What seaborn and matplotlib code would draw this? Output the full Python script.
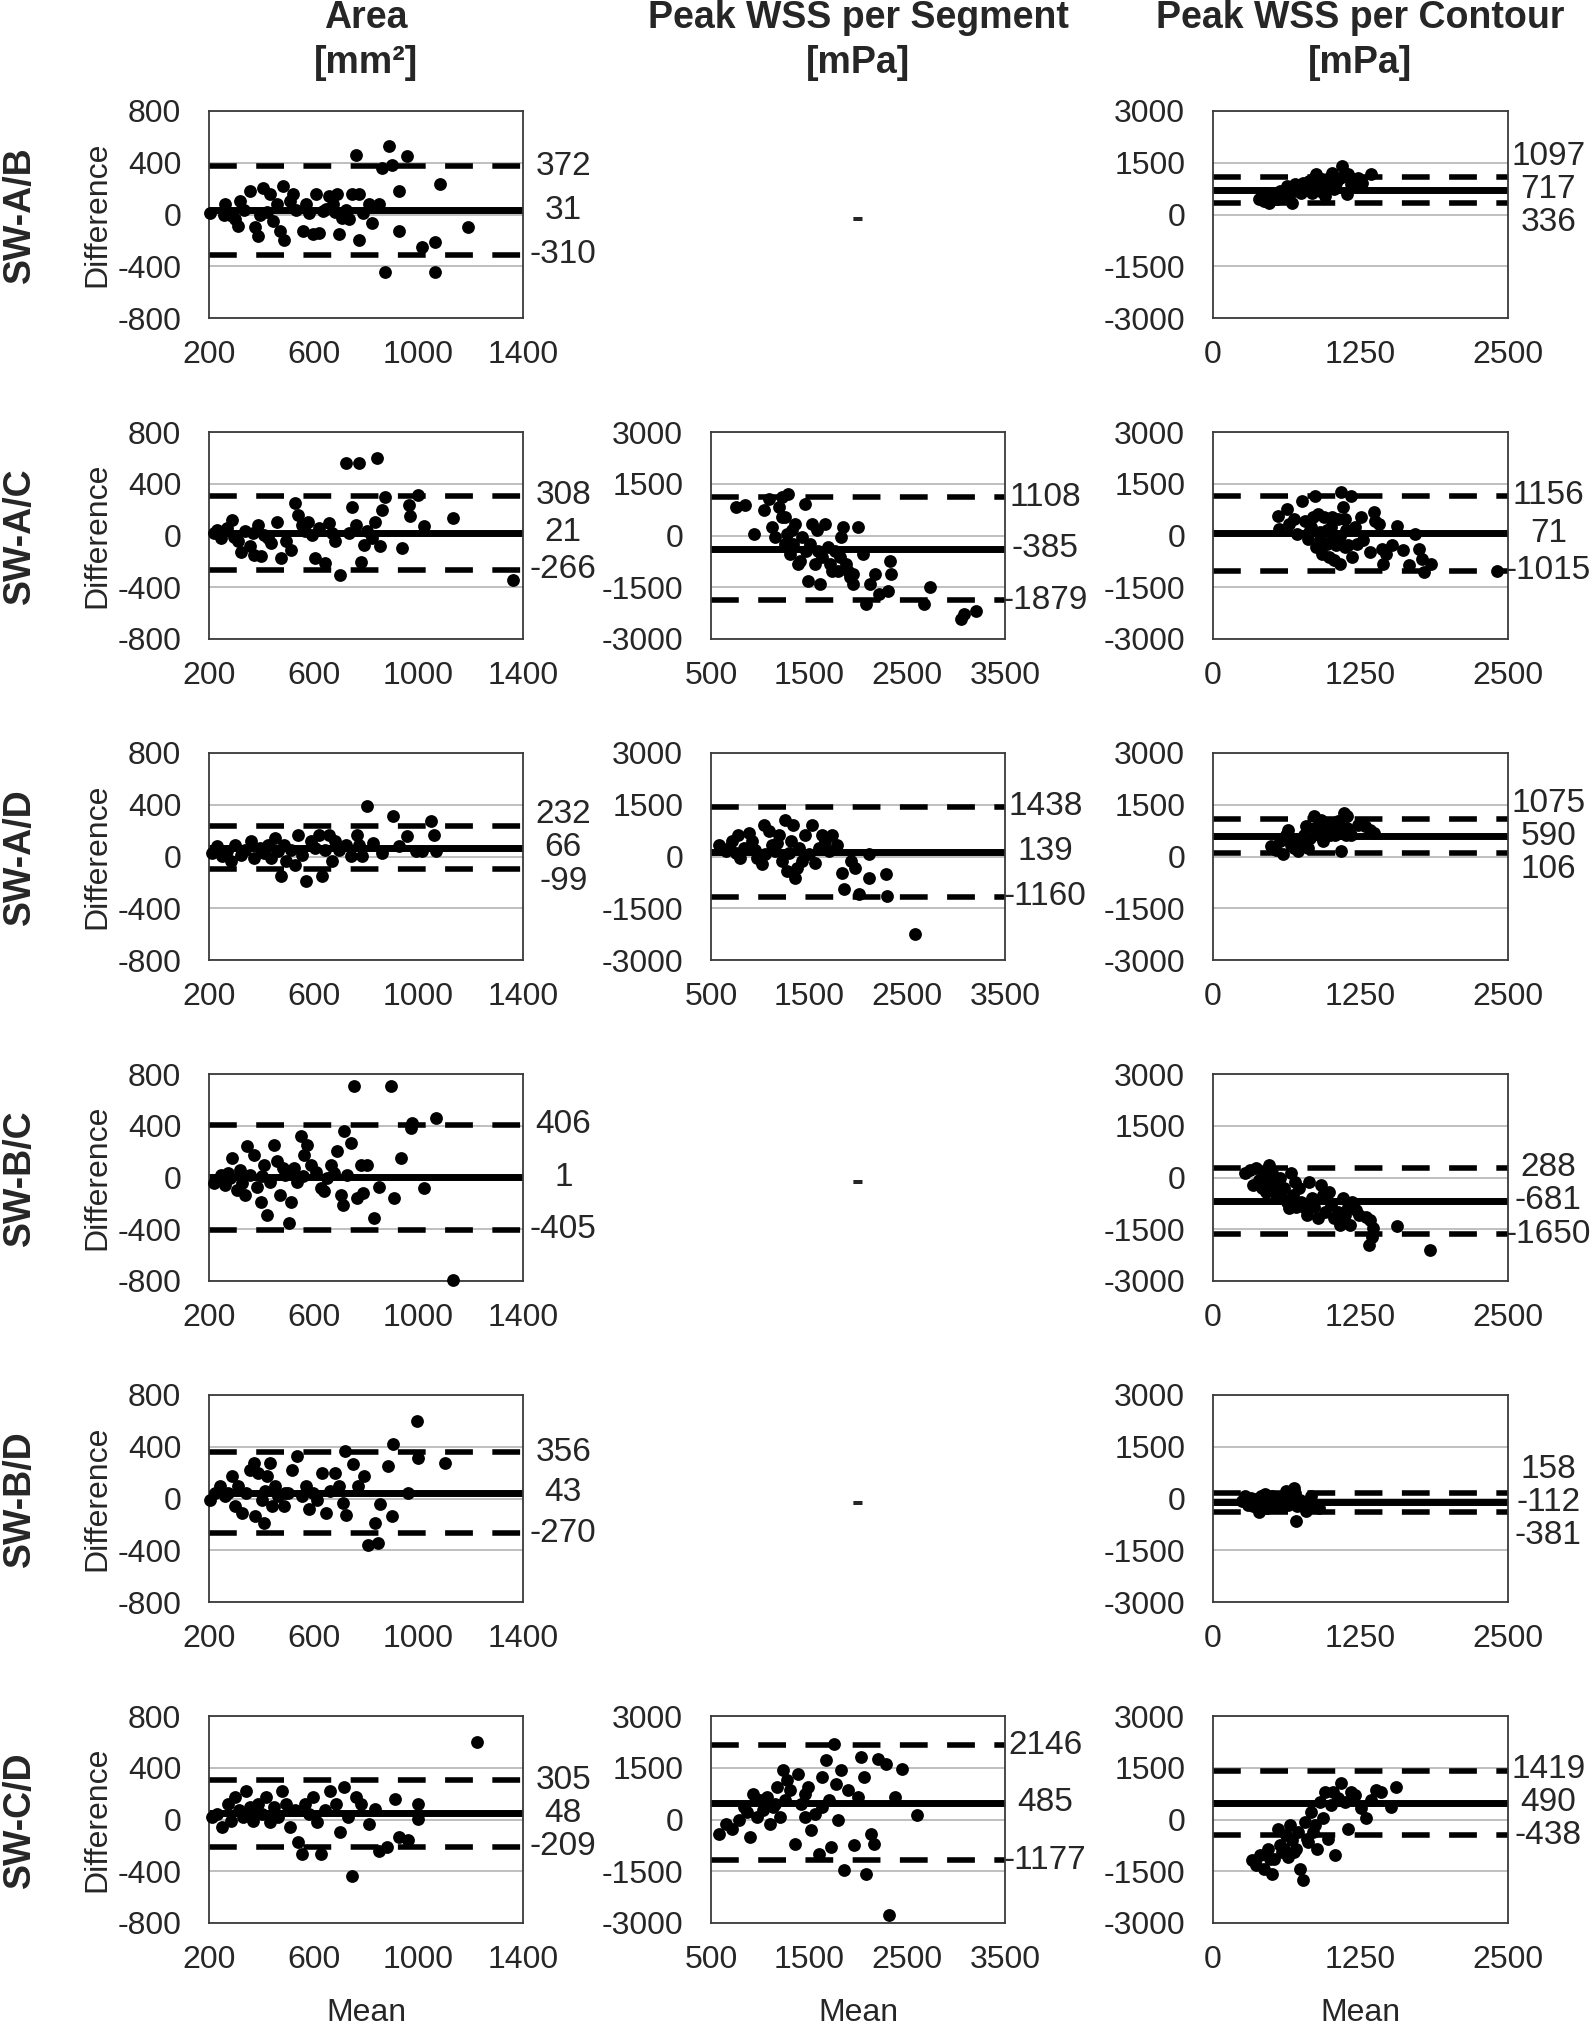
import matplotlib
matplotlib.use("Agg")
import matplotlib.pyplot as plt
import seaborn as sns

# ---- labels ----
header_titles = ["Area", "Peak WSS per Segment", "Peak WSS per Contour"]
header_units = ["[mm²]", "[mPa]", "[mPa]"]
row_labels = ["SW-A/B", "SW-A/C", "SW-A/D", "SW-B/C", "SW-B/D", "SW-C/D"]

area_xticks = [200, 600, 1000, 1400]
area_yticks = [-800, -400, 0, 400, 800]
seg_xticks = [500, 1500, 2500, 3500]
seg_yticks = [-3000, -1500, 0, 1500, 3000]
cont_xticks = [0, 1250, 2500]
cont_yticks = [-3000, -1500, 0, 1500, 3000]

# ---- bias / limits of agreement (mean, upper, lower) ----
area_ab_stats = [31, 372, -310]
area_ac_stats = [21, 308, -266]
area_ad_stats = [66, 232, -99]
area_bc_stats = [1, 406, -405]
area_bd_stats = [43, 356, -270]
area_cd_stats = [48, 305, -209]
seg_ac_stats = [-385, 1108, -1879]
seg_ad_stats = [139, 1438, -1160]
seg_cd_stats = [485, 2146, -1177]
cont_ab_stats = [717, 1097, 336]
cont_ac_stats = [71, 1156, -1015]
cont_ad_stats = [590, 1075, 106]
cont_bc_stats = [-681, 288, -1650]
cont_bd_stats = [-112, 158, -381]
cont_cd_stats = [490, 1419, -438]

# ---- scatter points (mean, difference) ----
area_ab_mean = [205, 261, 281, 299, 311, 318, 357, 377, 387, 407, 420, 432, 445, 470, 483, 488, 508, 521, 559, 571,
                597, 609, 622, 634, 660, 672, 690, 698, 710, 735, 748, 761, 774, 774, 811, 824, 849, 862, 874, 887,
                899, 925, 925, 958, 1013, 1064, 1064, 1084, 1190, 256, 332, 395, 458, 533, 584, 647, 680, 723, 787]
area_ab_diff = [10, 78, 0, -37, -88, 104, 180, -100, -165, 206, 20, 155, -50, -127, 220, -200, 104, 155, -127, 78,
                -152, 155, -140, 27, 142, 78, 155, -152, -24, -37, 155, 462, -200, 155, 78, -62, 78, 360, -446, 526,
                386, -127, 180, 449, -254, -216, -446, 232, -100, -5, 33, 0, 78, 33, 8, 45, 20, 33, 8]

area_ac_mean = [218, 244, 270, 288, 309, 321, 339, 355, 373, 386, 399, 412, 438, 459, 477, 495, 515, 528, 541, 554,
                567, 580, 606, 619, 645, 658, 670, 683, 701, 722, 735, 748, 773, 779, 792, 802, 823, 835, 843, 853,
                861, 874, 938, 964, 969, 997, 1023, 1134, 1361, 231, 296, 368, 425, 593, 761]
area_ac_diff = [18, -21, 57, 121, -46, -124, 31, -85, -149, 82, -162, 5, -59, 108, -175, -46, -111, 250, 160, 82,
                31, 108, -175, 57, -214, 95, 18, -46, -304, 559, 18, 224, 559, -201, -72, 31, -21, 108, 598, -85,
                198, 301, -98, 237, 147, 314, 70, 134, -343, 44, -8, 18, -21, 5, 82]

area_ad_mean = [210, 231, 249, 270, 283, 301, 321, 339, 360, 373, 393, 412, 425, 438, 451, 464, 477, 485, 495, 515,
                528, 541, 554, 572, 588, 606, 619, 632, 645, 658, 670, 683, 696, 722, 743, 766, 773, 786, 804, 825,
                861, 905, 925, 956, 990, 1015, 1049, 1060, 1067]
area_ad_diff = [28, 80, 3, 41, -36, 92, 15, 54, 118, -10, 67, 28, 92, -10, 144, 41, -152, 92, -36, 54,
                -62, 170, 15, -190, 118, 67, 170, -152, 54, 170, -36, 118, 54, 92, 3, 170, 92, 3, 388, 105,
                28, 311, 80, 157, 41, 41, 272, 170, 41]

area_bc_mean = [218, 244, 261, 281, 287, 307, 320, 338, 346, 358, 371, 384, 397, 409, 422, 435, 448, 461, 473, 491,
                507, 512, 525, 537, 550, 563, 576, 588, 609, 627, 639, 665, 678, 690, 703, 711, 716, 729, 741, 754,
                767, 780, 788, 805, 831, 849, 895, 907, 933, 971, 976, 1022, 1068, 1132, 274, 328, 404, 481, 558, 652]
area_bc_diff = [-44, 21, -57, -5, 150, -95, 59, -134, 240, 21, 175, -70, -186, 98, -289, -31, 253, 124, -134, 21,
                -353, -186, 72, -31, 317, 175, 253, 98, 46, -83, -108, 98, 34, 201, -134, -212, 356, 21, 266, 704,
                -160, 98, -121, 98, -315, -70, 704, -160, 150, 382, 421, -83, 459, -792, 34, -44, 8, 72, 8, -5]

area_bd_mean = [205, 223, 243, 261, 286, 299, 312, 325, 343, 358, 371, 376, 388, 401, 409, 422, 434, 439, 452, 465,
                485, 503, 516, 536, 554, 572, 582, 597, 613, 630, 648, 663, 681, 697, 714, 719, 724, 750, 770, 791,
                809, 834, 847, 852, 885, 898, 903, 959, 995, 1000, 1102, 274, 414, 490]
area_bd_diff = [-8, 44, 95, 18, 173, -59, 95, -111, 44, 224, 276, -137, 198, -8, -188, 173, 276, -59, 95, 18,
                -59, 44, 224, 327, 18, 95, -85, 44, -8, 198, -111, 57, 198, 95, -34, 366, -124, 263, 95, 173,
                -356, -188, -343, -46, 250, -137, 418, 44, 598, 314, 276, 44, 57, 44]

area_cd_mean = [212, 232, 251, 271, 283, 299, 314, 330, 342, 358, 369, 389, 401, 417, 432, 448, 464, 480, 495, 511,
                527, 539, 554, 566, 582, 598, 613, 629, 645, 664, 684, 700, 716, 731, 747, 763, 782, 810, 834, 849,
                881, 912, 928, 960, 999, 999, 1223]
area_cd_diff = [18, 44, -59, 121, -8, 173, 70, 18, 224, 95, -8, 121, 44, 173, -21, 95, 18, 224, 121, -59,
                70, -175, -265, 121, 44, 173, -21, -265, 70, 224, 121, -98, 250, 18, -433, 173, 121, -34, 82, -240,
                -214, 160, -137, -162, 121, 5, 598]

seg_ac_mean = [750, 851, 939, 1040, 1087, 1121, 1155, 1189, 1222, 1256, 1256, 1290, 1310, 1323, 1357, 1392, 1425,
               1459, 1473, 1493, 1527, 1561, 1581, 1608, 1628, 1662, 1696, 1716, 1764, 1798, 1831, 1852, 1878, 1919,
               1946, 2000, 2047, 2081, 2122, 2169, 2216, 2324, 2338, 2304, 2730, 2676, 3081, 3203, 3047,
               1222, 1276, 1337, 1412, 1514, 1595, 1730, 1818, 1899, 1953]
seg_ac_diff = [823, 871, 48, 726, 1065, 242, -48, 823, 1113, 532, -242, 1210, -532, 145, 339, -823, -48,
               919, -435, -1306, 339, -823, 145, -1403, -629, 339, -339, -823, -435, -1016, -48, 242, -823, -1210,
               -1403, 242, -532, -1984, -1403, -1113, -1694, -726, -1113, -1597, -1500, -1984, -2274, -2177, -2419,
               532, 48, -242, -726, -242, -435, -1016, -629, -1016, -1113]

seg_ad_mean = [581, 649, 717, 771, 798, 839, 886, 920, 974, 1022, 1043, 1090, 1124, 1158, 1192, 1226, 1260, 1280,
               1314, 1341, 1362, 1396, 1430, 1464, 1498, 1532, 1566, 1600, 1634, 1668, 1702, 1736, 1790, 1837, 1858,
               1926, 1973, 2007, 2109, 2109, 2285, 2299, 2585, 683, 751, 954, 1056, 1178, 1294, 1382]
seg_ad_diff = [347, 154, 443, 636, -39, 250, 684, 443, -39, -231, 924, 732, 347, 154, 636, -135, 1069, -424,
               443, 924, -616, 250, -135, 636, 58, 924, -183, 250, 636, 443, 154, 636, 347, -472, -953,
               -135, -328, -1098, 58, -616, -520, -1146, -2253, 250, 106, 202, 58, 395, 106, -328]

seg_cd_mean = [583, 655, 717, 790, 841, 893, 924, 966, 997, 1028, 1069, 1100, 1131, 1172, 1203, 1234, 1255, 1276,
               1307, 1359, 1390, 1421, 1462, 1493, 1524, 1566, 1597, 1628, 1669, 1700, 1721, 1752, 1772, 1793, 1824,
               1855, 1897, 1959, 2000, 2031, 2062, 2083, 2135, 2166, 2207, 2290, 2373, 2445, 2600, 2321,
               872, 1152, 1462, 1628]
seg_cd_diff = [-413, -121, -266, -24, 362, -507, 749, 72, 555, 266, 652, -121, 362, 942, 72, 1425, 555, 1135,
               845, -700, 1328, 459, 72, 942, -314, 169, -990, 1232, 1715, 555, -797, 2198, 1038, -24, 1425,
               -1473, 845, -749, 652, 1812, 1232, -1570, -413, -700, 1763, 1618, 652, 1473, 121, -2780,
               217, 459, 749, 362]

cont_ab_mean = [391, 415, 436, 451, 475, 496, 517, 541, 565, 586, 616, 631, 646, 667, 685, 697, 721, 745, 766, 787,
                811, 835, 856, 871, 886, 907, 925, 946, 961, 986, 1007, 1022, 1046, 1076, 1097, 1112, 1136, 1148,
                1166, 1187, 1232, 1262, 1337]
cont_ab_diff = [435, 532, 387, 629, 339, 484, 581, 435, 677, 532, 726, 823, 629, 339, 677, 871, 774, 629, 919, 726,
                968, 629, 1065, 1161, 871, 677, 1016, 532, 919, 1065, 1210, 726, 919, 1065, 1403, 1113, 581, 1161,
                871, 1016, 1065, 919, 1161]

cont_ac_mean = [547, 556, 626, 647, 690, 711, 757, 781, 803, 833, 863, 872, 894, 909, 924, 939, 964, 982, 997, 1012,
                1027, 1043, 1058, 1073, 1088, 1103, 1118, 1130, 1148, 1172, 1178, 1203, 1224, 1255, 1270, 1330,
                1361, 1376, 1407, 1428, 1437, 1467, 1513, 1558, 1610, 1665, 1713, 1743, 1774, 1789, 1850, 2403,
                815, 848, 909, 970, 1012, 1073, 1118]
cont_ac_diff = [578, 193, 770, 337, 482, 48, 1011, 433, -96, 241, 1156, -337, 626, 96, -530, 530, -241, -626, 241, 530,
                -722, -289, 482, -818, 1252, 819, -337, 145, -289, 1156, -626, 241, -241, 530, -144, -482,
                674, 433, 337, -385, -818, -530, -289, 289, -433, -867, 48, -385, -674, -1059, -818, -1040,
                96, 530, -144, 145, -48, 0, 482]

cont_ad_mean = [491, 530, 566, 596, 620, 632, 657, 687, 717, 741, 771, 792, 808, 823, 853, 867, 898, 913, 928, 952,
                973, 988, 1003, 1018, 1033, 1048, 1063, 1078, 1087, 1108, 1123, 1138, 1169, 1229, 1265, 1289, 1334,
                1364, 1138, 1078]
cont_ad_diff = [298, 202, 443, 58, 636, 780, 347, 250, 154, 395, 636, 876, 250, 539, 1165, 828, 636, 1069, 443, 732,
                924, 636, 828, 972, 636, 828, 1021, 732, 154, 1262, 636, 828, 636, 924, 972, 876, 780,
                684, 1165, 876]

cont_bc_mean = [267, 312, 343, 364, 388, 413, 434, 449, 473, 486, 504, 516, 534, 546, 564, 585, 601, 625, 646, 661,
                677, 692, 707, 728, 746, 777, 798, 813, 837, 859, 889, 919, 934, 950, 980, 1001, 1026, 1056, 1080,
                1101, 1117, 1141, 1162, 1177, 1208, 1238, 1299, 1329, 1359, 1344, 1323, 1556, 1835]
cont_bc_diff = [126, 223, -213, 271, -68, -310, 77, -406, 368, -116, 126, -406, -261, -503, -19, -600, -310, -697,
                -890, 126, -503, -116, -842, -310, -697, -890, -1084, -116, -600, -842, -1181, -213, -503, -987,
                -406, -793, -1181, -987, -1374, -600, -1084, -842, -1374, -697, -939, -1084, -1132, -1229, -1471,
                -1713, -1955, -1394, -2100]

cont_bd_mean = [245, 275, 297, 321, 336, 357, 375, 387, 406, 427, 442, 457, 472, 496, 518, 539, 563, 593, 617, 639,
                660, 684, 696, 702, 714, 739, 760, 790, 829, 860, 896, 300, 350, 400, 450, 500, 550, 600, 650]
cont_bd_diff = [-77, 68, -174, 19, -223, -29, -126, -397, 68, -174, 116, -271, -77, 68, -126, -29, -223, -77, 213,
                -174, 19, 310, 164, -658, -223, -29, -126, -368, 68, -174, -271, -60, -20, -100, -40, -80, 0, -50, -100]

cont_cd_mean = [328, 362, 397, 431, 466, 500, 517, 552, 569, 586, 621, 638, 655, 672, 707, 724, 741, 759, 776, 802,
                828, 845, 879, 905, 931, 948, 974, 1000, 1017, 1034, 1060, 1086, 1121, 1146, 1172, 1207, 1250, 1293,
                1336, 1379, 1422, 1509, 1552, 483, 603, 690, 793, 862]
cont_cd_diff = [-1181, -1326, -1035, -1423, -842, -1568, -1132, -261, -745, -939, -455, -1084, -165, -600, -842,
                -358, -1423, -1761, -68, -648, 223, -358, -842, 513, 29, 803, -551, 416, 803, -1035, 610, 1045, 513,
                -261, 803, 706, 319, 29, 561, 852, 803, 368, 948, -1132, -842, -939, -551, -165]

# (row, col, mean, diff, stats)
panels = [
    (0, 0, area_ab_mean, area_ab_diff, area_ab_stats),
    (1, 0, area_ac_mean, area_ac_diff, area_ac_stats),
    (2, 0, area_ad_mean, area_ad_diff, area_ad_stats),
    (3, 0, area_bc_mean, area_bc_diff, area_bc_stats),
    (4, 0, area_bd_mean, area_bd_diff, area_bd_stats),
    (5, 0, area_cd_mean, area_cd_diff, area_cd_stats),
    (1, 1, seg_ac_mean, seg_ac_diff, seg_ac_stats),
    (2, 1, seg_ad_mean, seg_ad_diff, seg_ad_stats),
    (5, 1, seg_cd_mean, seg_cd_diff, seg_cd_stats),
    (0, 2, cont_ab_mean, cont_ab_diff, cont_ab_stats),
    (1, 2, cont_ac_mean, cont_ac_diff, cont_ac_stats),
    (2, 2, cont_ad_mean, cont_ad_diff, cont_ad_stats),
    (3, 2, cont_bc_mean, cont_bc_diff, cont_bc_stats),
    (4, 2, cont_bd_mean, cont_bd_diff, cont_bd_stats),
    (5, 2, cont_cd_mean, cont_cd_diff, cont_cd_stats),
]
empty_cells = [(0, 1), (3, 1), (4, 1)]
col_ticks = [(area_xticks, area_yticks), (seg_xticks, seg_yticks), (cont_xticks, cont_yticks)]

# ---- style ----
sns.set_theme(style="white")
plt.rcParams['font.family'] = ['Liberation Sans', 'DejaVu Sans']

W, H = 1594, 2030
col_x = [209, 711, 1213]
col_w = [314, 294, 295]
row_y = [111 + 321 * i for i in range(6)]
ax_h = 207
TICK_FS = 23
DASH = (0, (5, 3.5))


def box(x0, y0, w, h):
    return [x0 / W, 1 - (y0 + h) / H, w / W, h / H]


def spread_labels(stats, rng):
    # push limit labels away from the bias label so they don't overlap
    m, up, lo = stats
    gap = 0.16 * rng
    return [m, max(up, m + gap), min(lo, m - gap)]


fig = plt.figure(figsize=(W / 100, H / 100), dpi=100)

for row, col, mean, diff, stats in panels:
    ax = fig.add_axes(box(col_x[col], row_y[row], col_w[col], ax_h))
    xt, yt = col_ticks[col]
    ax.set_axisbelow(True)
    ax.yaxis.grid(True, color='#bfbfbf', lw=1.4)
    ax.xaxis.grid(False)

    ax.axhline(stats[0], color='black', lw=5, zorder=2)
    ax.axhline(stats[1], color='black', lw=4, ls=DASH, zorder=2)
    ax.axhline(stats[2], color='black', lw=4, ls=DASH, zorder=2)

    sns.scatterplot(x=mean, y=diff, ax=ax, color='black', s=85, linewidth=0,
                    clip_on=False, zorder=3, legend=False)

    ax.set_xlim(xt[0], xt[-1])
    ax.set_ylim(yt[0], yt[-1])
    ax.set_xticks(xt)
    ax.set_yticks(yt)
    ax.set_xticklabels([str(v) for v in xt])
    ax.set_yticklabels([str(v) for v in yt])
    ax.tick_params(axis='x', length=0, pad=16, labelsize=TICK_FS)
    ax.tick_params(axis='y', length=0, pad=20, labelsize=TICK_FS)
    ax.set_xlabel("")
    ax.set_ylabel("")
    for sp in ax.spines.values():
        sp.set_color('#3a3a3a')
        sp.set_linewidth(1.3)

    label_y = spread_labels(stats, yt[-1] - yt[0])
    for v, ly in zip(stats, label_y):
        ax.annotate(str(v), xy=(1, ly), xycoords=ax.get_yaxis_transform(),
                    xytext=(29, 0), textcoords='offset points',
                    ha='center', va='center', fontsize=24, annotation_clip=False)

for row, col in empty_cells:
    cx = (col_x[col] + col_w[col] / 2) / W
    cy = 1 - (row_y[row] + ax_h / 2 + 4) / H
    fig.text(cx, cy, "-", ha='center', va='center', fontsize=26, fontweight='bold')

# column headers
for col in range(3):
    cx = (col_x[col] + col_w[col] / 2) / W
    fig.text(cx, 1 - 18 / H, header_titles[col], ha='center', va='center',
             fontsize=27, fontweight='bold')
    fig.text(cx, 1 - 63 / H, header_units[col], ha='center', va='center',
             fontsize=27, fontweight='bold')
    fig.text(cx, 1 - 2013 / H, "Mean", ha='center', va='center', fontsize=23)

# row labels
for row in range(6):
    cy = 1 - (row_y[row] + ax_h / 2) / H
    fig.text(20 / W, cy, row_labels[row], ha='center', va='center', rotation=90,
             fontsize=27, fontweight='bold')
    fig.text(97 / W, cy, "Difference", ha='center', va='center', rotation=90,
             fontsize=23)

fig.savefig("out.png", dpi=100)
